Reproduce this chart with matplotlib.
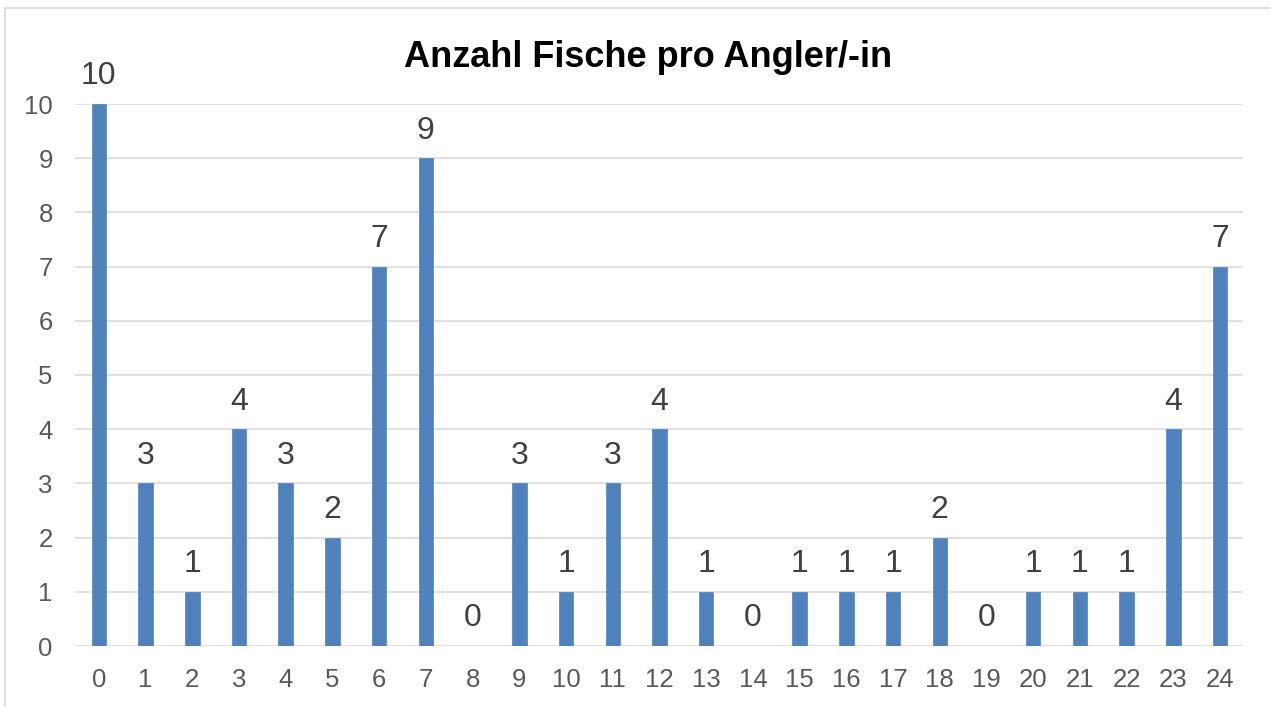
import matplotlib
matplotlib.use("Agg")
import matplotlib.pyplot as plt
from matplotlib.patches import Rectangle

plt.rcParams['font.family'] = ['Liberation Sans', 'DejaVu Sans']

categories = [str(i) for i in range(25)]
values = [10, 3, 1, 4, 3, 2, 7, 9, 0, 3, 1, 3, 4, 1, 0, 1, 1, 1, 2, 0, 1, 1, 1, 4, 7]
yticks = list(range(0, 11))
title = "Anzahl Fische pro Angler/-in"

W, H = 1271, 707
fig = plt.figure(figsize=(W / 100, H / 100), dpi=100)
ax = fig.add_axes([75 / W, 1 - 646 / H, (1243 - 75) / W, (646 - 104) / H])

x = list(range(len(categories)))
bars = ax.bar(x, values, width=0.31, color='#4F81BD', edgecolor='#4F81BD', linewidth=0.5, zorder=3)

for xi, v in zip(x, values):
    ax.annotate(str(v), (xi, v), xytext=(0, 9), textcoords='offset points',
                ha='center', va='bottom', fontsize=23, color='#404040')

ax.set_xlim(-0.51, 24.49)
ax.set_ylim(0, 10)
ax.set_yticks(yticks)
ax.set_xticks(x)
ax.set_xticklabels(categories)
ax.grid(axis='y', color='#D9D9D9', linewidth=1.1, zorder=0)
ax.set_axisbelow(True)
for s in ax.spines.values():
    s.set_visible(False)
ax.tick_params(axis='both', length=0, labelsize=18.5, labelcolor='#595959')
ax.tick_params(axis='x', pad=16)
ax.tick_params(axis='y', pad=16)

fig.text(648 / W, 1 - 67 / H, title, ha='center', va='baseline', fontsize=26,
         fontweight='bold', color='black')

fig.patches.append(Rectangle((5 / W, -0.1), 1.2, 1 - 8 / H + 0.1, transform=fig.transFigure,
                             fill=False, edgecolor='#D9D9D9', linewidth=1.2, clip_on=False))

fig.savefig("out.png", dpi=100)
